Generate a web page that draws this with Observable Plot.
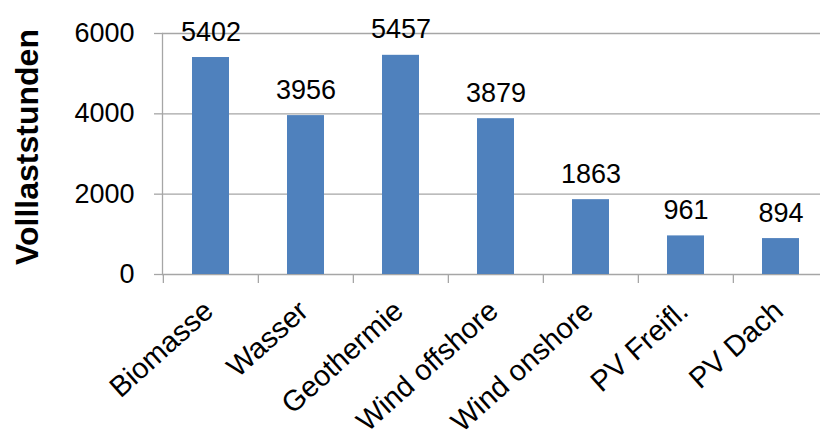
<!DOCTYPE html>
<html>
<head>
<meta charset="utf-8">
<script src="https://cdn.jsdelivr.net/npm/d3@7"></script>
<script src="https://cdn.jsdelivr.net/npm/@observablehq/plot@0.6"></script>
<style>
  html, body { margin: 0; padding: 0; background: white; }
</style>
</head>
<body>
<div id="chart"></div>
<script>
const categories = ["Biomasse", "Wasser", "Geothermie", "Wind offshore", "Wind onshore", "PV Freifl.", "PV Dach"];
const values = [5402, 3956, 5457, 3879, 1863, 961, 894];
const yTicks = [0, 2000, 4000, 6000];
const yTitle = "Volllaststunden";

const data = categories.map((c, i) => ({category: c, value: values[i]}));
const gray = "#a6a6a6";
const barColor = "#4f81bd";
const font = "'Liberation Sans', Arial, sans-serif";

const plot = Plot.plot({
  width: 820,
  height: 437,
  marginTop: 33,
  marginBottom: 163,
  marginLeft: 162,
  marginRight: -9,
  style: {fontFamily: font, fontSize: "27px", color: "black", background: "white"},
  x: {domain: categories, paddingInner: 0.612, paddingOuter: 0.306, axis: null},
  y: {domain: [0, 6000], ticks: yTicks, axis: null, label: null},
  marks: [
    Plot.ruleY(yTicks, {stroke: gray, strokeWidth: 1.3}),
    Plot.frame({anchor: "left", stroke: gray, strokeWidth: 1.3}),
    Plot.axisY({ticks: yTicks, tickFormat: d => String(d), tickSize: 8, tickPadding: 20, stroke: gray, strokeWidth: 1.3, fill: "black", label: null, fontSize: 27}),
    Plot.axisX({tickSize: 9, tickFormat: () => "", dx: -(667 / 7) / 2, stroke: gray, strokeWidth: 1.3, label: null}),
    Plot.barY(data, {x: "category", y: "value", fill: barColor}),
    Plot.text(data, {x: "category", y: "value", text: d => String(d.value), dy: -17, lineAnchor: "bottom", fontSize: 27, fill: "black"}),
    Plot.text(categories, {x: d => d, text: d => d, frameAnchor: "bottom", rotate: -42, textAnchor: "end", lineAnchor: "bottom", dx: 4, dy: 39, fontSize: 29, fill: "black"}),
    Plot.text([yTitle], {frameAnchor: "left", text: d => d, rotate: -90, textAnchor: "middle", lineAnchor: "bottom", dx: -125, dy: -7, fontSize: 32, fontWeight: "bold", fill: "black"})
  ]
});
document.getElementById("chart").appendChild(plot);
</script>
</body>
</html>
